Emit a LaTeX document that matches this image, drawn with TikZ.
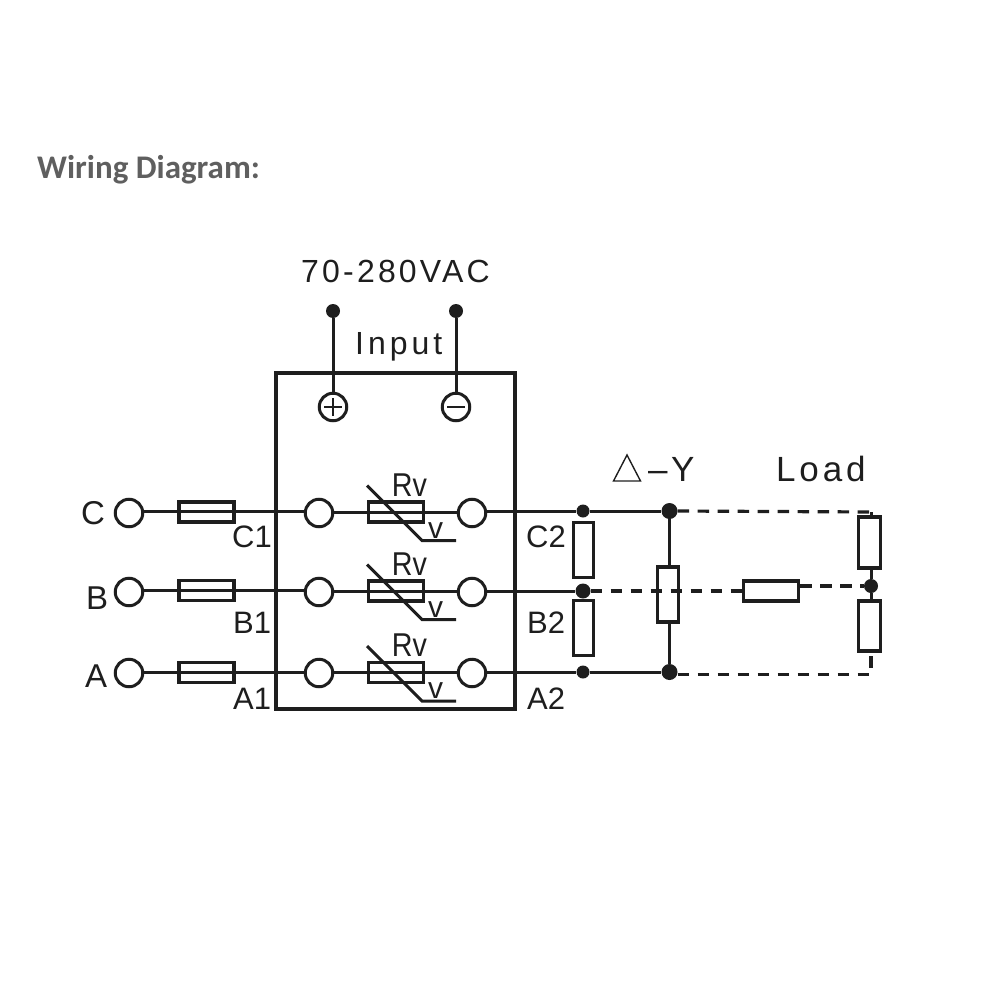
\documentclass[tikz,border=0pt]{standalone}
\usepackage{fontspec}
\setmainfont{Liberation Sans}
\newfontfamily\titlefont{Carlito}
\newfontfamily\rvfont[FakeStretch=0.87]{Liberation Sans}
\definecolor{ink}{HTML}{1E1E1E}
\definecolor{titlegrey}{HTML}{5F5F5F}
\tikzset{
  wire/.style={draw=ink,line width=3pt},
  dashwire/.style={draw=ink,line width=3.2pt,dash pattern=on 11.5pt off 8.5pt},
  box/.style={draw=ink,line width=3.4pt},
  term/.style={circle,draw=ink,line width=3pt,fill=white,minimum size=27.5pt,inner sep=0pt},
  dot/.style={circle,fill=ink,minimum size=14pt,inner sep=0pt},
  hres/.style={rectangle,draw=ink,line width=3.2pt,fill=white,minimum width=55pt,minimum height=20pt,inner sep=0pt},
  vres/.style={rectangle,draw=ink,line width=3.2pt,fill=white,minimum width=20pt,minimum height=55pt,inner sep=0pt},
  lab/.style={text=ink,font=\fontsize{32}{34}\selectfont,inner sep=0pt,anchor=base west},
  tag/.style={text=ink,font=\fontsize{31}{33}\selectfont,inner sep=0pt,anchor=base west},
  rvlab/.style={text=ink,font=\rvfont\fontsize{33}{34}\selectfont,inner sep=0pt},
  vlab/.style={text=ink,font=\fontsize{30}{31}\selectfont,inner sep=0pt},
}
\begin{document}
\begin{tikzpicture}[x=1pt,y=-1pt]
\useasboundingbox (0,0) rectangle (1000,1000);
% title
\node[anchor=base west,text=titlegrey,inner sep=0pt,font=\titlefont\bfseries\fontsize{33}{35}\selectfont] (title) at (37,179) {Wiring Diagram:};
\node[lab] (volt) at (301,282) {\addfontfeatures{LetterSpace=10}70-280VAC};
\node[lab] (inp) at (355,354) {\addfontfeatures{LetterSpace=12.5}Input};
% module
\draw[box] (276,373) rectangle (515,709);
% input
\node[dot] (pin1) at (333,311) {};
\node[dot] (pin2) at (456,311) {};
\draw[wire] (pin1) -- (333,407);
\draw[wire] (pin2) -- (456,407);
\node[term] (plus) at (333,407) {};
\node[term] (minus) at (456,407) {};
\draw[draw=ink,line width=2.6pt] (plus.center)+(-9,0) -- +(9,0) (plus.center)+(0,-9) -- +(0,9);
\draw[draw=ink,line width=2.6pt] (minus.center)+(-9,0) -- +(9,0);
% rows: terminal y / fuse y / varistor y / output wire y
\foreach \n/\t/\f/\r/\w in {C/513/512/512/511,B/592/590.5/591/590,A/673/672.5/672.5/672}{
  \node[term] (in\n) at (129,\t) {};
  \node[hres] (f\n) at (206.5,\f) {};
  \node[term] (t\n) at (319,\t) {};
  \node[term] (u\n) at (472,\t) {};
  \node[hres] (r\n) at (396,\r) {};
  \draw[wire] (in\n.east |- 0,\w) -- (t\n.west |- 0,\w);
  \draw[wire] (t\n.east |- r\n) -- (u\n.west |- r\n);
  \draw[draw=ink,line width=3pt] (367,\r-26.5) -- (422,\r+28.5) -- (456,\r+28.5);
  \node[rvlab] at (409.5,\r-27) {Rv};
  \node[vlab] at (435.5,\r+18.5) {v};
}
% letters
\node[lab,font=\fontsize{33}{34}\selectfont] (lc) at (81,524) {C};
\node[lab,font=\fontsize{33}{34}\selectfont] (lb) at (86,609) {B};
\node[lab,font=\fontsize{33}{34}\selectfont] (la) at (85,687) {A};
\node[tag] (c1) at (232,547) {C1};
\node[tag] (b1) at (233,633) {B1};
\node[tag] (a1) at (233,709) {A1};
\node[tag] (c2) at (526,547) {C2};
\node[tag] (b2) at (527,633) {B2};
\node[tag] (a2) at (527,709) {A2};
% right side
\node[dot,minimum size=13pt] (dc) at (583,511) {};
\node[dot,minimum size=15pt] (db) at (583,591) {};
\node[dot,minimum size=13pt] (da) at (583,672) {};
\node[dot,minimum size=16pt] (mc) at (669.5,511) {};
\node[dot,minimum size=16pt] (ma) at (669.5,672) {};
\node[dot] (star) at (871,586) {};
\coordinate (cc) at (871,512);
\coordinate (ca) at (871,674.5);
\draw[wire] (uC.east |- dc) -- (dc);
\draw[wire] (uB.east |- db) -- (db);
\draw[wire] (uA.east |- da) -- (da);
\draw[wire] (dc) -- (mc);
\draw[wire] (da) -- (ma);
\draw[wire] (mc) -- (ma);
\node[vres] (r1) at (583.5,550) {};
\node[vres] (r2) at (583.5,628) {};
\node[vres,minimum width=21pt] (r3) at (668,594.5) {};
\node[hres] (r4) at (771,591) {};
\node[vres,minimum width=22pt,minimum height=51pt] (r5) at (869.5,542.5) {};
\node[vres,minimum width=22pt,minimum height=50pt] (r6) at (869.5,626) {};
\draw[dashwire] (db.east) -- (r4.west |- db);
\draw[dashwire] (r4.east |- star) -- (star);
\draw[dashwire] (mc.east) -- (cc);
\draw[dashwire] (ma.east |- ca) -- (ca) -- (ca |- r6.south);
\draw[wire] (cc) -- (cc |- r5.north);
\draw[wire] (star |- r5.south) -- (star) -- (star |- r6.north);
% label
\draw[draw=ink,line width=1.4pt,line join=miter] (613.5,481) -- (640.5,481) -- (627,455) -- cycle;
\node[lab,font=\fontsize{35}{36}\selectfont] (dy) at (648,481) {\addfontfeatures{LetterSpace=10}–Y};
\node[lab,font=\fontsize{35}{36}\selectfont] (load) at (776,481) {\addfontfeatures{LetterSpace=11}Load};
\end{tikzpicture}
\end{document}
